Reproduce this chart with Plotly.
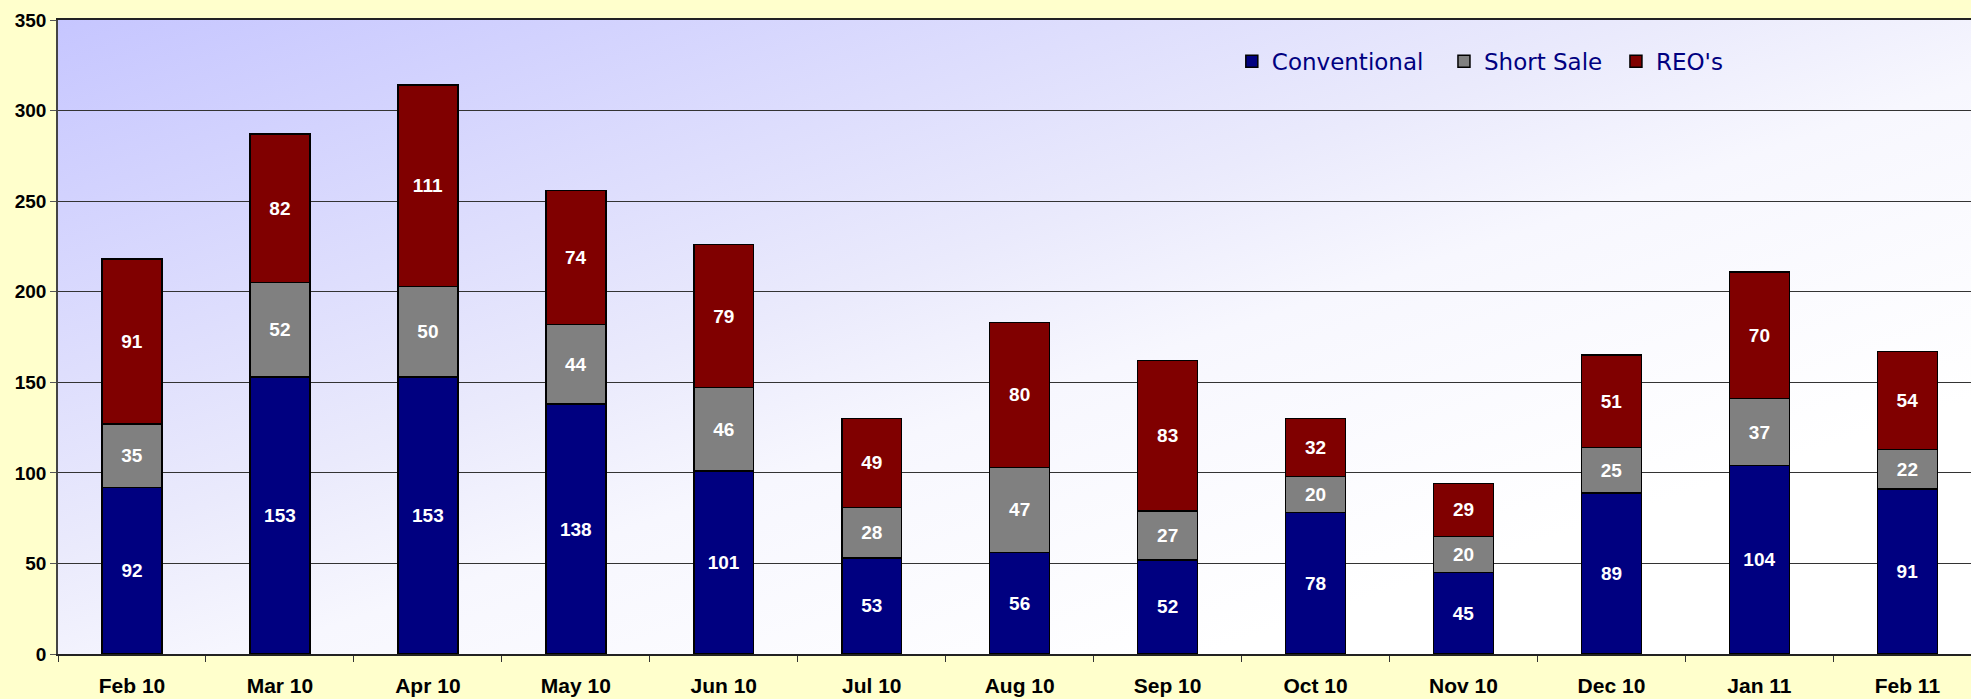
import base64
import plotly.graph_objects as go

# --------------------------------------------------
# Data
# --------------------------------------------------
months = ["Feb 10", "Mar 10", "Apr 10", "May 10", "Jun 10", "Jul 10", "Aug 10",
          "Sep 10", "Oct 10", "Nov 10", "Dec 10", "Jan 11", "Feb 11"]
conventional = [92, 153, 153, 138, 101, 53, 56, 52, 78, 45, 89, 104, 91]
short_sale = [35, 52, 50, 44, 46, 28, 47, 27, 20, 20, 25, 37, 22]
reos = [91, 82, 111, 74, 79, 49, 80, 83, 32, 29, 51, 70, 54]

# name, values, colour, legend slot, legend x position
series = [
    ("Conventional", conventional, "#000080", "legend", 0.6136),
    ("Short Sale", short_sale, "#808080", "legend2", 0.7245),
    ("REO's", reos, "#800000", "legend3", 0.8144),
]

# --------------------------------------------------
# Gradient background for the plot area (svg as data uri)
# --------------------------------------------------
svg = (
    '<svg xmlns="http://www.w3.org/2000/svg" width="100" height="100" '
    'viewBox="0 0 100 100" preserveAspectRatio="none">'
    '<defs><linearGradient id="g" x1="0" y1="0" x2="1" y2="1">'
    '<stop offset="0" stop-color="#C6C6FF"/>'
    '<stop offset="0.42" stop-color="#EAEAFC"/>'
    '<stop offset="0.55" stop-color="#F7F7FE"/>'
    '<stop offset="0.8" stop-color="#FFFFFF"/>'
    '</linearGradient></defs>'
    '<rect x="0" y="0" width="100" height="100" fill="url(#g)"/></svg>'
)
bg_uri = "data:image/svg+xml;base64," + base64.b64encode(svg.encode()).decode()

fig = go.Figure()

legend_layout = {}
for name, vals, color, leg, leg_x in series:
    fig.add_trace(
        go.Bar(
            x=months,
            y=vals,
            name=name,
            legend=leg,
            width=0.405,
            marker=dict(color=color, line=dict(color="#000000", width=1.5)),
            text=vals,
            textposition="inside",
            insidetextanchor="middle",
            textangle=0,
            constraintext="none",
            textfont=dict(family="Liberation Sans", size=19, color="white", weight="bold"),
            hoverinfo="skip",
        )
    )
    legend_layout[leg] = dict(
        orientation="h",
        x=leg_x,
        y=0.935,
        xanchor="left",
        yanchor="middle",
        bgcolor="rgba(0,0,0,0)",
        font=dict(family="DejaVu Sans", size=23, color="#000080"),
        itemwidth=30,
    )

fig.update_layout(
    barmode="stack",
    width=1971,
    height=699,
    paper_bgcolor="#FFFFCC",
    plot_bgcolor="#FFFFFF",
    margin=dict(l=58, r=0, t=20, b=45),
    showlegend=True,
    images=[
        dict(
            source=bg_uri,
            xref="paper",
            yref="paper",
            x=0,
            y=1,
            sizex=1,
            sizey=1,
            xanchor="left",
            yanchor="top",
            sizing="stretch",
            layer="below",
        )
    ],
    **legend_layout,
)

fig.update_xaxes(
    range=[-0.5, 12.43],
    automargin=False,
    tickson="boundaries",
    ticks="outside",
    ticklen=6,
    tickcolor="#333333",
    showline=True,
    linecolor="#222222",
    linewidth=1.5,
    mirror=True,
    showgrid=False,
    ticklabelstandoff=12,
    tickfont=dict(family="Liberation Sans", size=21, color="#000000", weight="bold"),
)

fig.update_yaxes(
    range=[0, 350],
    dtick=50,
    automargin=False,
    ticks="outside",
    ticklen=6,
    tickcolor="#555555",
    showline=True,
    linecolor="#444444",
    linewidth=1.5,
    showgrid=True,
    gridcolor="#333333",
    gridwidth=1,
    zeroline=False,
    tickfont=dict(family="Liberation Sans", size=19, color="#000000", weight="bold"),
)

fig.write_html(
    "out.html",
    config={"displayModeBar": False},
    post_script="document.body.style.margin='0';",
)
